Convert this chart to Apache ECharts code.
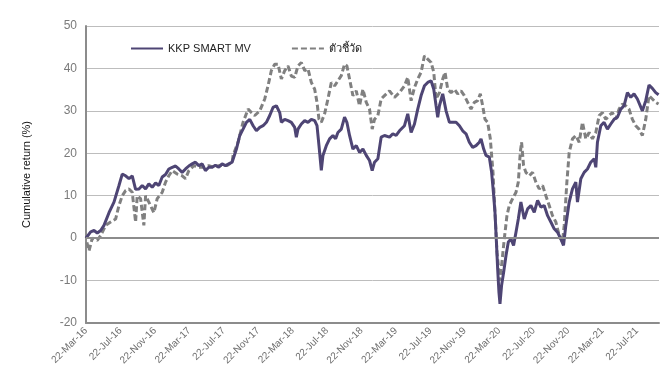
<!DOCTYPE html>
<html>
<head>
<meta charset="utf-8">
<script src="https://cdn.jsdelivr.net/npm/echarts@6/dist/echarts.min.js"></script>
<style>
html,body{margin:0;padding:0;background:#fff;}
#chart{width:661px;height:382px;}
</style>
</head>
<body>
<div id="chart"></div>
<script>
// x values are months elapsed since 22-Mar-16
const tickLabels = ['22-Mar-16','22-Jul-16','22-Nov-16','22-Mar-17','22-Jul-17','22-Nov-17','22-Mar-18','22-Jul-18','22-Nov-18','22-Mar-19','22-Jul-19','22-Nov-19','22-Mar-20','22-Jul-20','22-Nov-20','22-Mar-21','22-Jul-21'];
const seriesNames = ['KKP SMART MV', 'ตัวชี้วัด'];

const kkpMonths = [0,0.15,0.54,0.93,1.31,1.70,2.09,2.67,3.25,3.83,4.21,4.60,4.99,5.37,5.76,6.15,6.53,6.92,7.30,7.69,8.08,8.46,8.85,9.24,9.62,10.01,10.40,10.78,11.17,11.56,11.94,12.33,12.71,13.10,13.49,13.87,14.26,14.65,15.03,15.42,15.81,16.19,16.58,16.97,
17.47,17.86,18.24,18.63,19.02,19.41,19.79,20.18,20.57,20.95,21.34,21.72,22.11,22.50,22.69,23.08,23.46,23.85,24.24,24.43,24.62,25.01,25.40,25.78,26.17,26.56,26.83,27.06,27.33,27.52,27.91,28.29,28.68,28.99,29.26,29.65,30.03,30.30,30.61,31.00,31.39,31.77,32.16,32.55,32.93,33.24,33.51,33.90,
34.28,34.67,35.25,35.64,36.02,36.41,36.99,37.37,37.76,38.15,38.53,38.92,39.31,39.69,40.08,40.39,40.66,40.85,41.05,41.43,41.82,42.21,42.59,42.98,43.37,43.75,44.14,44.52,44.91,45.30,45.68,45.88,46.19,46.46,46.84,47.11,47.35,47.50,47.65,47.81,47.96,48.08,48.27,48.51,48.78,49.05,49.36,49.66,49.94,50.21,
50.51,50.90,51.29,51.67,52.06,52.45,52.83,53.22,53.61,53.99,54.38,54.76,55.15,55.46,55.73,56.12,56.50,56.89,57.08,57.47,57.86,58.24,58.63,59.02,59.21,59.40,59.79,60.17,60.56,60.95,61.33,61.72,62.11,62.49,62.88,63.27,63.65,64.04,64.62,65.01,65.39,65.78,66.17,66.5];
const kkpValues = [0,0.2,1.5,1.8,1.2,1.8,3,6,8.5,12.4,15.1,14.7,14,14.7,11.5,11.6,12.4,11.6,12.8,12,13,12.4,14.4,15,16.3,16.7,17,16.3,15.5,16.3,17,17.5,17.9,17.1,17.5,15.9,16.7,16.7,17.2,16.7,17.5,17.1,17.5,17.9,
21,24.2,25.7,27.3,28,26.5,25.3,26.1,26.5,27.3,28.9,30.8,31.2,29.6,27.3,28,27.7,27.3,26.1,23.8,25.7,26.9,27.7,27.3,28,27.7,26.5,21.8,16,19.5,21.8,23.4,24.2,23.4,24.9,25.7,28.5,27.3,24.2,21,21.8,20.2,21,19.5,18.3,15.9,17.9,18.7,
23.8,24.2,23.8,24.6,24.2,25.3,26.5,29.3,24.9,26.9,30.4,33.6,35.9,36.7,37.1,35.1,31.2,28.5,31.2,34,30,27.3,27.3,27.3,26.5,25.3,24.6,22.6,21.4,21.8,22.6,23.4,21,19.5,19.1,15.5,10,6.1,-0.2,-7.2,-12.7,-15.5,-11.1,-8,-4.1,-0.9,-0.2,-1.7,1.4,4.5,
8.5,4.5,6.9,7.7,6.1,8.9,7.3,7.7,5.3,3.8,2.2,1.4,-0.2,-1.7,3,8.5,11.6,13.2,8.5,14,15.5,16.3,17.9,18.7,16.7,22.6,26.5,27.3,25.7,26.9,28,28.5,30.4,31.2,34.3,33.2,34,32.8,30,32.4,36.1,35.3,34.3,33.8];

const benchMonths = [0.1,0.35,0.73,1.31,1.70,2.28,2.86,3.44,3.83,4.21,4.60,4.99,5.37,5.76,5.95,6.34,6.72,6.92,7.30,7.88,8.27,8.85,9.24,9.62,10.01,10.59,11.17,11.56,11.94,12.52,13.10,13.68,14.26,14.84,15.61,16.39,16.97,
17.08,17.66,18.24,18.83,19.21,19.60,20.18,20.76,21.14,21.53,21.92,22.30,22.69,23.08,23.46,23.85,24.24,24.62,25.01,25.40,25.78,26.17,26.56,26.83,27.06,27.33,27.71,28.10,28.49,28.87,29.26,29.65,30.03,30.30,30.61,31.00,31.39,31.77,32.16,32.55,32.93,33.24,33.51,33.90,
34.28,34.67,35.25,35.83,36.41,36.99,37.37,37.76,38.15,38.53,38.92,39.31,39.69,40.08,40.39,40.66,41.05,41.43,41.70,42.01,42.40,42.79,43.17,43.56,43.94,44.33,44.72,45.10,45.49,45.80,46.07,46.34,46.65,46.96,47.11,47.27,47.42,47.58,47.73,47.89,48.04,48.27,48.58,48.89,49.16,49.55,49.94,50.21,50.44,50.59,50.82,
51.09,51.48,51.87,52.25,52.64,53.03,53.41,53.80,54.18,54.57,54.96,55.34,55.54,55.85,56.12,56.50,56.89,57.28,57.66,58.05,58.44,58.82,59.21,59.60,59.98,60.37,60.75,61.14,61.53,61.91,62.30,62.69,63.07,63.46,63.85,64.23,64.62,65.01,65.39,65.78,66.17,66.5];
const benchValues = [-1,-3,0,-0.5,0.6,3,3.8,4.5,7.7,10,11.2,11.6,10.8,3.8,10,9.3,3,10,8.5,6,9.3,10.8,13.2,14.7,15.9,15.1,14.7,14,15.9,17.1,16.7,16.7,17.1,16.7,17.2,17.1,17.9,
19.5,22.6,27.3,30.4,29.6,28.9,30,32.8,35.9,39.5,41,41,37.5,39.5,40.6,38.2,37.9,40.6,41.4,39.5,39.9,36.7,35.1,32,28,27.3,29.3,32.8,36.7,35.9,37.1,38.3,41,40.6,37.5,33.6,34.7,31.2,35.1,32,30.4,25.7,28,28.9,
32.8,33.6,34.7,33.2,34.3,35.9,37.9,32.4,35.5,37.5,39.1,43,42.2,41.4,39.1,32.8,34.3,37.5,39.1,35.1,34.3,35.1,34,34.7,33.6,32,30.4,32,32.4,34,31.2,28,27.3,23.4,19.5,15.5,9.3,3,-3.3,-6.4,-10,-6.4,-0.2,5.3,7.7,9.3,10.8,13.2,20.2,22.6,17.1,
15.5,14.7,15.5,13.2,11.6,12.4,10,7.7,5.3,3.8,0.6,-0.9,3,13.2,20.2,23.4,24.2,22.6,27.3,23.4,24.9,23.4,24.9,28.9,29.6,28,28.9,29.6,28,30.4,31.6,31.2,30.4,28,26.5,25.7,24.2,28,33.6,32.8,32,31.6];

const zip = (xs, ys) => xs.map((x, i) => [x, ys[i]]);
const chart = echarts.init(document.getElementById('chart'));
const font = '"Liberation Sans", "Noto Sans", "DejaVu Sans", sans-serif';
chart.setOption({
  animation: false,
  backgroundColor: '#fff',
  textStyle: { fontFamily: font },
  grid: { left: 86, right: 2, top: 26, bottom: 59, containLabel: false },
  legend: {
    left: 125, top: 38,
    itemWidth: 32, itemHeight: 10, itemGap: 40,
    itemStyle: { opacity: 0 },
    textStyle: { fontSize: 11, color: '#222', fontFamily: font },
    data: seriesNames
  },
  xAxis: {
    type: 'value', min: 0, max: 66.55, interval: 4,
    axisLine: { show: true, onZero: false, lineStyle: { color: '#8c8c8c', width: 2 } },
    axisTick: { show: false },
    splitLine: { show: false },
    axisLabel: {
      rotate: 45, fontSize: 10, color: '#6e6e6e', margin: 6, showMaxLabel: false,
      formatter: v => (Math.abs(v / 4 - Math.round(v / 4)) < 1e-6 ? (tickLabels[Math.round(v / 4)] || '') : '')
    }
  },
  yAxis: {
    type: 'value', min: -20, max: 50, interval: 10,
    name: 'Cumulative return (%)', nameLocation: 'middle', nameGap: 54, nameRotate: 90,
    nameTextStyle: { fontSize: 11, color: '#111' },
    axisLine: { show: true, lineStyle: { color: '#8c8c8c', width: 2 } },
    axisTick: { show: false },
    axisLabel: { fontSize: 12, color: '#7a7a7a', margin: 9 },
    splitLine: { show: true, lineStyle: { color: '#bdbdbd', width: 1 } }
  },
  series: [
    {
      name: seriesNames[0], type: 'line', data: zip(kkpMonths, kkpValues),
      showSymbol: false, symbol: 'none', symbolSize: 0,
      lineStyle: { color: '#4e4574', width: 3 }, itemStyle: { color: '#4e4574' },
      z: 3,
      markLine: {
        silent: true, symbol: 'none', label: { show: false },
        lineStyle: { color: '#8c8c8c', width: 2, type: 'solid' },
        data: [{ yAxis: 0 }]
      }
    },
    {
      name: seriesNames[1], type: 'line', data: zip(benchMonths, benchValues),
      showSymbol: false, symbol: 'none', symbolSize: 0,
      lineStyle: { color: '#808080', width: 3, type: [6, 3] }, itemStyle: { color: '#808080' },
      z: 2
    }
  ]
});
</script>
</body>
</html>
